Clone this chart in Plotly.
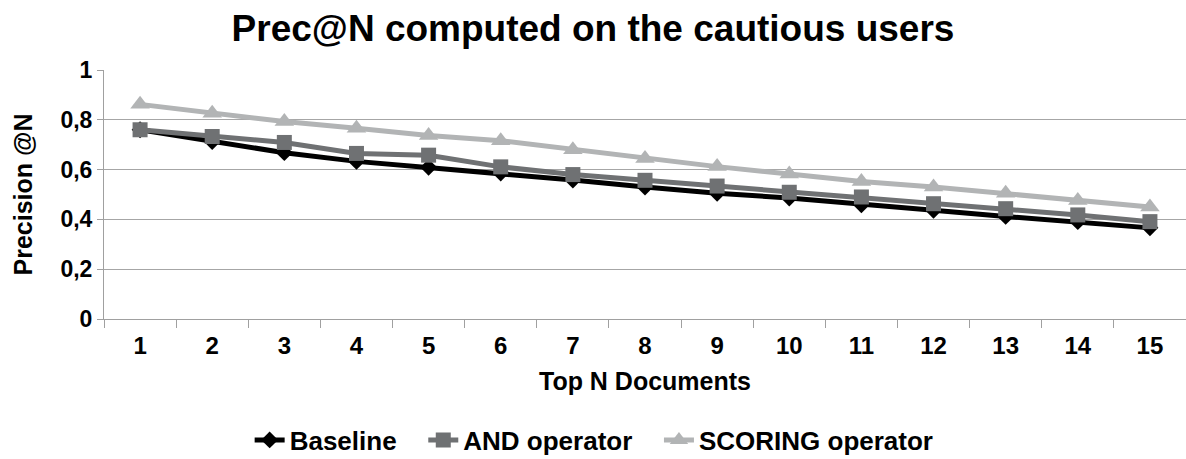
import plotly.graph_objects as go

categories = [str(i) for i in range(1, 16)]
baseline = [0.76, 0.713, 0.668, 0.633, 0.609, 0.586, 0.558, 0.530, 0.505, 0.486, 0.459, 0.437, 0.412, 0.391, 0.366]
and_op = [0.76, 0.733, 0.709, 0.665, 0.658, 0.611, 0.580, 0.557, 0.534, 0.509, 0.490, 0.463, 0.443, 0.418, 0.391]
scoring = [0.862, 0.826, 0.793, 0.766, 0.737, 0.716, 0.680, 0.645, 0.612, 0.582, 0.552, 0.530, 0.505, 0.476, 0.450]
y_ticks = [0, 0.2, 0.4, 0.6, 0.8, 1]
y_tick_labels = ["0", "0,2", "0,4", "0,6", "0,8", "1"]

FONT = "Liberation Sans, Arial, sans-serif"
GAP = "&nbsp;" * 3

fig = go.Figure()
fig.add_trace(go.Scatter(x=categories, y=baseline, name="<b>Baseline</b>" + GAP, mode="lines+markers",
                         line=dict(color="#000000", width=5),
                         marker=dict(symbol="diamond", size=13, color="#000000")))
fig.add_trace(go.Scatter(x=categories, y=and_op, name="<b>AND operator</b>" + GAP, mode="lines+markers",
                         line=dict(color="#6f7173", width=5),
                         marker=dict(symbol="square", size=15, color="#6f7173")))
fig.add_trace(go.Scatter(x=categories, y=scoring, name="<b>SCORING operator</b>", mode="lines+markers",
                         line=dict(color="#b2b4b5", width=5),
                         marker=dict(symbol="triangle-up", size=17, color="#b2b4b5")))

fig.update_layout(
    width=1186, height=459,
    margin=dict(l=104, r=0, t=70, b=140, autoexpand=False),
    paper_bgcolor="white", plot_bgcolor="white",
    font=dict(family=FONT, color="#000000"),
    title=dict(text="<b>Prec@N computed on the cautious users</b>", x=0.5, xanchor="center",
               y=0.939, yanchor="middle", font=dict(size=37, family=FONT)),
    xaxis=dict(type="category", tickson="boundaries", ticks="outside", ticklen=8,
               range=[-0.5, 14.5], autorange=False,
               tickcolor="#a0a0a0", showline=True, linecolor="#a0a0a0", linewidth=1,
               showgrid=False, tickfont=dict(size=24, family=FONT), automargin=False,
               tickprefix="<b>", ticksuffix="</b>", ticklabelstandoff=5,
               title=dict(text="<b>Top N Documents</b>", font=dict(size=25, family=FONT), standoff=14)),
    yaxis=dict(range=[0, 1], tickvals=y_ticks, ticktext=["<b>%s</b>" % t for t in y_tick_labels],
               ticks="outside", ticklen=6, tickcolor="#a0a0a0",
               showline=True, linecolor="#a0a0a0", linewidth=1, automargin=False,
               showgrid=True, gridcolor="#a6a6a6", gridwidth=1, zeroline=False,
               tickfont=dict(size=23, family=FONT),
               title=dict(text="<b>Precision @N</b>", font=dict(size=25, family=FONT), standoff=20)),
    legend=dict(orientation="h", x=0.453, xanchor="center", y=-0.486, yanchor="middle",
                font=dict(size=26, family=FONT), itemwidth=30, traceorder="normal"),
)

fig.write_html("out.html", config={"displayModeBar": False},
               post_script="document.body.style.margin='0';document.body.style.overflow='hidden';")
